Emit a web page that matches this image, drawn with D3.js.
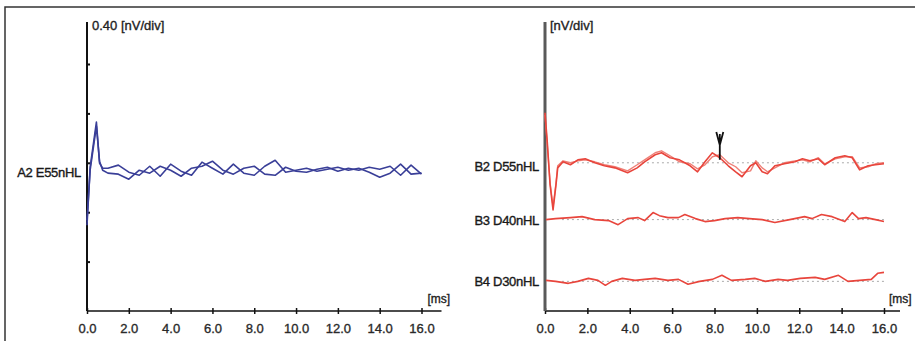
<!DOCTYPE html>
<html><head><meta charset="utf-8">
<script src="https://cdn.jsdelivr.net/npm/d3@7"></script>
<style>
html,body{margin:0;padding:0;background:#fff;}
svg{display:block;}
text{font-family:"Liberation Sans",Arial,sans-serif;fill:#222;}
</style></head>
<body>
<svg id="chart" width="915" height="341"></svg>
<script>
// ---------- DATA ----------
const xTicks = [0, 2, 4, 6, 8, 10, 12, 14, 16];
const xTickLabels = ["0.0", "2.0", "4.0", "6.0", "8.0", "10.0", "12.0", "14.0", "16.0"];
const yTicksLeft = [0.4, 0.8, 1.2, 1.6, 2.0];
const leftScaleLabel = "0.40 [nV/div]";
const rightScaleLabel = "[nV/div]";
const timeUnit = "[ms]";

// Left panel: channel A2 (two replicates)
const leftChannels = ["A2 E55nHL"];
const leftOffsets = [1.14];
const a2Time = [0, 0.15, 0.45, 0.6, 0.75, 1.0, 1.5, 2.0, 2.5, 3.0, 3.5, 4.0, 4.5, 5.0, 5.5, 6.0, 6.5, 7.0, 7.5, 8.0, 8.5, 9.0, 9.5, 10.0, 10.5, 11.0, 11.5, 12.0, 12.5, 13.0, 13.5, 14.0, 14.5, 15.0, 15.5, 16.0];
const a2Run1 = [-0.446, 0.024, 0.389, 0.057, 0.016, 0.016, 0.041, -0.016, -0.041, 0.032, -0.049, 0.049, -0.008, -0.041, 0.065, 0.016, -0.032, 0.049, -0.024, -0.041, 0.032, 0.081, -0.016, 0, 0.016, -0.008, 0.008, 0.024, 0, 0.016, -0.016, -0.057, -0.024, 0.049, -0.032, -0.024];
const a2Run2 = [-0.405, 0, 0.356, 0.073, 0, -0.024, -0.032, -0.073, 0, -0.024, 0.032, 0, -0.049, 0.016, 0.032, 0.073, 0, -0.032, 0.016, 0.032, -0.032, -0.041, 0.024, -0.008, -0.016, 0.008, 0.024, -0.008, 0.016, 0, 0.024, 0.008, 0.032, -0.041, 0.041, -0.032];

// Right panel: channels B2, B3, B4
const rightChannels = ["B2 D55nHL", "B3 D40nHL", "B4 D30nHL"];
const rightOffsets = [1.20, 0.74, 0.24];
const b2Time = [0, 0.1, 0.24, 0.38, 0.52, 0.6, 0.85, 1.2, 1.55, 1.9, 2.35, 2.8, 3.3, 3.9, 4.35, 4.7, 5.2, 5.5, 5.9, 6.35, 6.85, 7.2, 7.55, 7.9, 8.25, 8.65, 9.0, 9.3, 9.7, 9.95, 10.25, 10.5, 10.85, 11.3, 11.8, 12.15, 12.5, 12.9, 13.2, 13.7, 14.15, 14.5, 14.85, 15.25, 15.6, 16.0];
const b2Run1 = [0.405, 0.186, -0.178, -0.381, -0.178, -0.041, 0.008, -0.016, 0.024, 0.032, 0, -0.024, -0.041, -0.081, -0.041, 0.008, 0.065, 0.081, 0.041, 0.024, -0.024, -0.073, 0.008, 0.081, 0.041, -0.024, -0.073, -0.113, -0.024, 0, -0.073, -0.089, -0.024, -0.008, 0.008, 0.032, 0.016, 0.032, -0.016, 0.041, 0.057, 0.041, -0.057, -0.024, -0.016, -0.008];
const b2Run2 = [0.389, 0.162, -0.162, -0.356, -0.162, -0.024, 0.016, 0, 0.016, 0.024, 0.008, -0.016, -0.032, -0.065, -0.016, 0.024, 0.081, 0.097, 0.057, 0.008, -0.008, -0.049, -0.016, 0.049, 0.065, 0, -0.032, -0.081, -0.065, 0.016, -0.041, -0.073, -0.041, 0, 0.016, 0.024, 0.008, 0.041, -0.008, 0.032, 0.049, 0.049, -0.041, -0.032, -0.008, 0];
const b3Time = [0.05, 0.5, 1.2, 1.75, 2.35, 3.0, 3.45, 3.9, 4.4, 4.7, 5.1, 5.4, 5.8, 6.3, 6.6, 7.1, 7.55, 8.0, 8.5, 9.1, 9.65, 10.25, 10.85, 11.55, 12.25, 12.6, 13.05, 13.55, 14.15, 14.5, 14.8, 15.15, 15.6, 16.0];
const b3Run = [0, 0.008, 0.016, 0.024, 0, -0.008, -0.041, 0.008, 0.016, -0.008, 0.057, 0.032, 0.016, 0.016, 0.041, 0.008, -0.016, -0.008, 0.008, 0.016, 0.008, 0, -0.024, 0, 0.024, 0.008, 0.041, 0.024, -0.016, 0.057, 0.008, 0.016, 0, -0.016];
const b4Time = [0.05, 0.5, 1.1, 1.55, 2.05, 2.5, 2.85, 3.15, 3.65, 4.25, 4.7, 5.2, 5.8, 6.3, 6.75, 7.3, 7.9, 8.35, 8.8, 9.45, 9.9, 10.4, 11.0, 11.45, 12.05, 12.75, 13.2, 13.85, 14.3, 14.85, 15.4, 15.7, 16.0];
const b4Run = [0.008, 0, -0.016, 0, 0.024, 0.008, -0.032, 0, 0.024, 0.008, 0.016, 0.024, 0.008, 0.016, -0.024, 0, 0.016, 0.049, 0.008, 0.016, 0.024, 0, 0.016, 0.008, 0.024, 0.032, 0.016, 0.049, 0, 0.008, 0.016, 0.065, 0.073];

// Wave V marker on B2
const waveVLatency = 8.25;
const waveVRange = [0.024, 0.25];

// ---------- DRAWING ----------
const svg = d3.select("#chart");
const blue = "#3a3f98", red = "#e8453c", redLight = "#ef7f76";

// outer frame
svg.append("path").attr("d", "M5,341V7H915").attr("fill", "none").attr("stroke", "#333").attr("stroke-width", 1.5);

function heavy(sel, col) {
  return sel.attr("fill", col).attr("stroke", col).attr("stroke-width", 0.35);
}

function panel(cfg) {
  const x = d3.scaleLinear().domain([0, 16]).range([cfg.x0, cfg.x1]);
  const y = d3.scaleLinear().domain([0, 2.34]).range([311, 22]);
  const g = svg.append("g");

  // x axis
  const ax = d3.axisBottom(x).tickValues(xTicks).tickFormat((d, i) => xTickLabels[i]).tickSize(3).tickPadding(10);
  const axg = g.append("g").attr("transform", `translate(0,${y(0)})`).call(ax);
  axg.select(".domain").remove();
  axg.selectAll(".tick line").attr("y1", -3).attr("stroke", "#111").attr("stroke-width", 1.5);
  heavy(axg.selectAll(".tick text").attr("font-size", 13).attr("font-family", "Liberation Sans, Arial, sans-serif"), "#333");
  g.append("line").attr("x1", x(0)).attr("x2", x(16) + cfg.axisExtra).attr("y1", y(0)).attr("y2", y(0))
    .attr("stroke", "#111").attr("stroke-width", 1.7);
  heavy(g.append("text").attr("x", x(16) + cfg.msDx).attr("y", y(0) - 8).attr("font-size", 12).text(timeUnit), "#222");

  // y axis
  g.append("line").attr("x1", x(0)).attr("x2", x(0)).attr("y1", y(2.34)).attr("y2", y(0))
    .attr("stroke", cfg.yColor).attr("stroke-width", cfg.yWidth);
  if (cfg.yTicks) {
    const ay = d3.axisLeft(y).tickValues(cfg.yTicks).tickSize(3).tickFormat("");
    const ayg = g.append("g").attr("transform", `translate(${x(0)},0)`).call(ay);
    ayg.select(".domain").remove();
    ayg.selectAll(".tick line").attr("x2", 3).attr("stroke", "#111").attr("stroke-width", 2);
  }
  heavy(g.append("text").attr("x", x(0) + 5).attr("y", y(2.34) + 8).attr("font-size", 13).text(cfg.scaleLabel), "#222");
  return { x, y, g };
}

function trace(p, times, vals, offset, color, width) {
  const line = d3.line().x((d, i) => p.x(times[i])).y(d => p.y(offset + d));
  p.g.append("path").datum(vals).attr("d", line).attr("fill", "none")
    .attr("stroke", color).attr("stroke-width", width).attr("stroke-linejoin", "round");
}

function channelLabel(p, name, offset, dy) {
  heavy(p.g.append("text").attr("x", p.x(0) - 6).attr("y", p.y(offset) + dy).attr("text-anchor", "end")
    .attr("font-size", 13).attr("letter-spacing", -0.3).text(name), "#111");
}

// Left panel
const L = panel({ x0: 87, x1: 421.5, axisExtra: 20, msDx: 6, yColor: "#111", yWidth: 2, yTicks: yTicksLeft, scaleLabel: leftScaleLabel });
trace(L, a2Time, a2Run1, leftOffsets[0], blue, 1.6);
trace(L, a2Time, a2Run2, leftOffsets[0], blue, 1.6);
channelLabel(L, leftChannels[0], leftOffsets[0], 7);

// Right panel
const R = panel({ x0: 545, x1: 884, axisExtra: 16, msDx: 5, yColor: "#5a5a5a", yWidth: 3, yTicks: null, scaleLabel: rightScaleLabel });
rightOffsets.forEach(o => {
  R.g.append("line").attr("x1", R.x(0.8)).attr("x2", R.x(16)).attr("y1", R.y(o)).attr("y2", R.y(o))
    .attr("stroke", "#aaa").attr("stroke-width", 1).attr("stroke-dasharray", "2,3");
});
trace(R, b2Time, b2Run2, rightOffsets[0], redLight, 1.4);
trace(R, b2Time, b2Run1, rightOffsets[0], red, 1.6);
trace(R, b3Time, b3Run, rightOffsets[1], red, 1.6);
trace(R, b4Time, b4Run, rightOffsets[2], red, 1.6);
rightChannels.forEach((n, i) => channelLabel(R, n, rightOffsets[i], [8, 5, 5][i]));

// wave V marker
const vx = R.x(waveVLatency), vTop = R.y(rightOffsets[0] + waveVRange[1]), vBot = R.y(rightOffsets[0] + waveVRange[0]);
R.g.append("path").attr("d", `M${vx - 3.5},${vTop}L${vx},${vTop + 13}L${vx + 3.5},${vTop}M${vx},${vTop + 2}V${vBot}`)
  .attr("fill", "none").attr("stroke", "#111").attr("stroke-width", 1.8);
</script>
</body></html>
